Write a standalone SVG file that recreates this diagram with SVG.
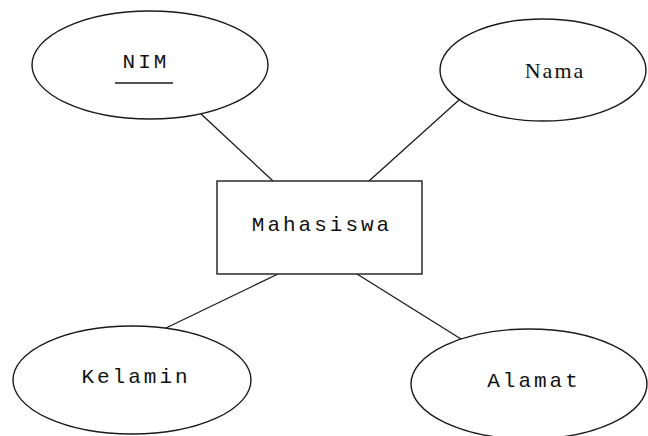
<svg xmlns="http://www.w3.org/2000/svg" width="648" height="436" viewBox="0 0 648 436">
  <style>
    .shape { fill: #ffffff; stroke: #1a1a1a; stroke-width: 1.4; }
    .link { stroke: #1a1a1a; stroke-width: 1.3; fill: none; }
    .label { font-family: "Liberation Mono", "Courier New", monospace; font-size: 21px; letter-spacing: 3px; fill: #111111; text-anchor: middle; }
    .serif { font-family: "Liberation Serif", "Times New Roman", serif; font-size: 22px; letter-spacing: 2px; }
  </style>
  <rect width="648" height="436" fill="#ffffff"/>

  <!-- connectors between the entity and its attributes -->
  <g id="connectors">
    <line class="link" x1="200" y1="113" x2="273" y2="181"/>
    <line class="link" x1="459" y1="100" x2="369" y2="181"/>
    <line class="link" x1="278" y1="274" x2="166" y2="328"/>
    <line class="link" x1="357" y1="274" x2="461" y2="339"/>
  </g>

  <g id="nim">
    <ellipse class="shape" cx="150" cy="65" rx="118" ry="54"/>
    <text class="label" x="146" y="68">NIM</text>
    <line class="link" x1="115" y1="83" x2="173" y2="83"/>
  </g>

  <g id="nama">
    <ellipse class="shape" cx="543" cy="70" rx="103" ry="51"/>
    <text class="label serif" x="555" y="78">Nama</text>
  </g>

  <g id="mahasiswa">
    <rect class="shape" x="217" y="181" width="205" height="93"/>
    <text class="label" x="322" y="231">Mahasiswa</text>
  </g>

  <g id="kelamin">
    <ellipse class="shape" cx="132" cy="380" rx="119" ry="54"/>
    <text class="label" x="136" y="383">Kelamin</text>
  </g>

  <g id="alamat">
    <ellipse class="shape" cx="529" cy="384" rx="118" ry="55"/>
    <text class="label" x="534" y="387">Alamat</text>
  </g>
</svg>
